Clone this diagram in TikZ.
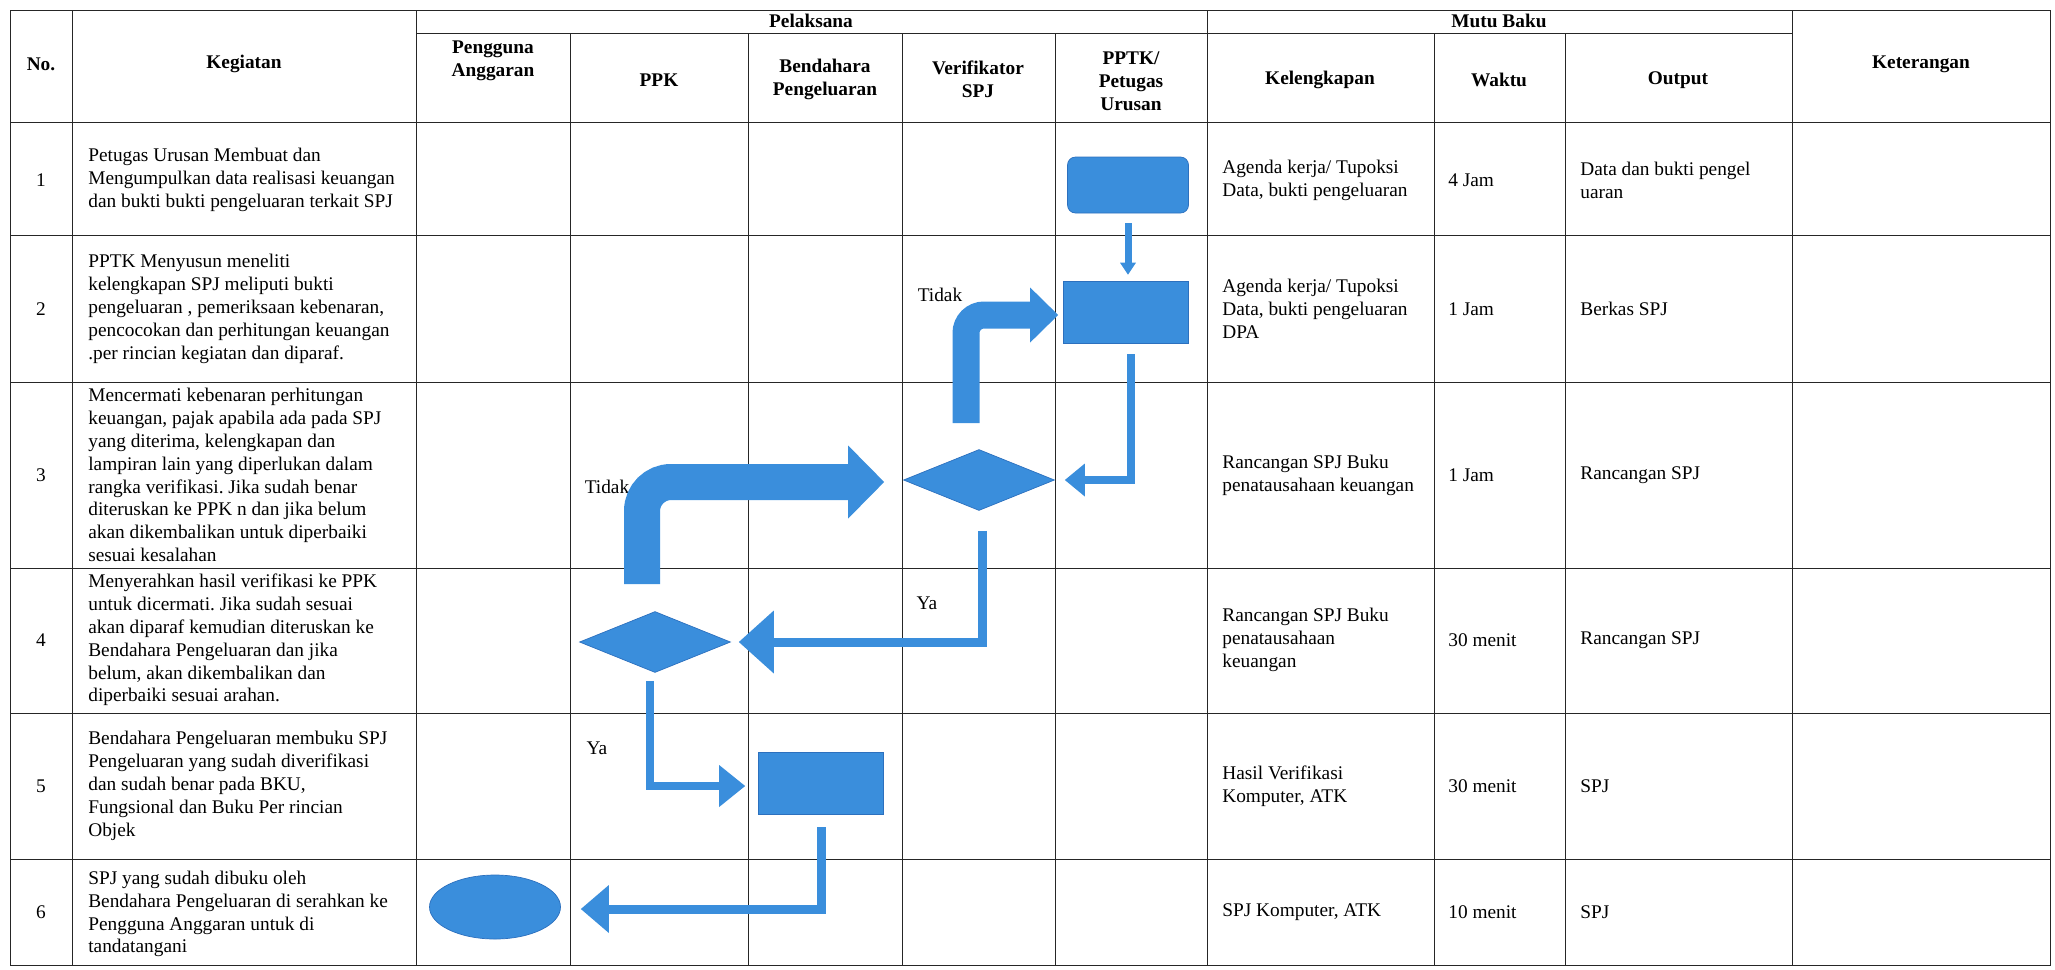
\documentclass[tikz,border=0pt]{standalone}
\usepackage{fontspec}
\setmainfont{Liberation Serif}
\usepackage{tikz}
\usetikzlibrary{arrows.meta,shapes.geometric}
\frenchspacing
\definecolor{flowblue}{RGB}{58,142,220}
\definecolor{flowedge}{RGB}{44,112,190}
\tikzstyle{grid line}=[draw=black!85,line width=0.5pt]
\tikzstyle{head}=[font=\fontsize{11}{13}\selectfont\bfseries,align=center,inner sep=0pt]
\tikzstyle{body}=[font=\fontsize{11}{13}\selectfont,inner sep=0pt]
\tikzstyle{desc}=[body,anchor=west,align=left]
\tikzstyle{blue box}=[rectangle,fill=flowblue,draw=flowedge,line width=0.4pt,minimum width=25mm,minimum height=12.4mm,inner sep=0pt]
\tikzstyle{blue round}=[blue box,rounded corners=1.6mm,minimum width=24.2mm,minimum height=11.2mm]
\tikzstyle{blue diamond}=[diamond,fill=flowblue,draw=flowedge,line width=0.4pt,minimum width=30.2mm,minimum height=12.2mm,inner sep=0pt]
\tikzstyle{blue oval}=[ellipse,fill=flowblue,draw=flowedge,line width=0.4pt,minimum width=26.2mm,minimum height=12.8mm,inner sep=0pt]
\tikzstyle{flow}=[draw=flowblue,line join=miter]

\begin{document}
\begin{tikzpicture}[x=0.2mm,y=-0.2mm]
          \useasboundingbox (0,0) rectangle (2055,969);
          % table
          \draw[grid line] (10,10) rectangle (2050,965);
          \foreach \y in {122,235,382,568,713,859} \draw[grid line] (10,\y) -- (2050,\y);
          \draw[grid line] (416,33) -- (1792,33);
          \foreach \x in {72,416,1207,1792} \draw[grid line] (\x,10) -- (\x,965);
          \foreach \x in {570,748,902,1055,1434,1565} \draw[grid line] (\x,33) -- (\x,965);

          \node[head] (hno) at (41,64) {No.};
          \node[head] (hkeg) at (244,64) {Kegiatan};
          \node[head] (hpel) at (811,21) {Pelaksana};
          \node[head] (hmutu) at (1499,21) {Mutu Baku};
          \node[head] (hket) at (1921,64) {Keterangan};
          \node[head] (hpa) at (493,61) {Pengguna\\Anggaran};
          \node[head] (hppk) at (659,80) {PPK};
          \node[head] (hbp) at (825,79) {Bendahara\\Pengeluaran};
          \node[head] (hver) at (978,79) {Verifikator\\SPJ};
          \node[head] (hpptk) at (1131,81) {PPTK/\\Petugas\\Urusan};
          \node[head] (hkel) at (1320,80) {Kelengkapan};
          \node[head] (hwak) at (1499,80) {Waktu};
          \node[head] (hout) at (1678,80) {Output};

          \node[body] (no1) at (41,180) {1};
          \node[body] (no2) at (41,309) {2};
          \node[body] (no3) at (41,475) {3};
          \node[body] (no4) at (41,640) {4};
          \node[body] (no5) at (41,786) {5};
          \node[body] (no6) at (41,912) {6};

          \node[desc] (keg1) at (88,180) {Petugas Urusan Membuat dan\\Mengumpulkan data realisasi keuangan\\dan bukti bukti pengeluaran terkait SPJ};
          \node[desc] (keg2) at (88,309) {PPTK Menyusun meneliti\\kelengkapan SPJ meliputi bukti\\pengeluaran , pemeriksaan kebenaran,\\pencocokan dan perhitungan keuangan\\.per rincian kegiatan dan diparaf.};
          \node[desc] (keg3) at (88,475) {Mencermati kebenaran perhitungan\\keuangan, pajak apabila ada pada SPJ\\yang diterima, kelengkapan dan\\lampiran lain yang diperlukan dalam\\rangka verifikasi. Jika sudah benar\\diteruskan ke PPK n dan jika belum\\akan dikembalikan untuk diperbaiki\\sesuai kesalahan};
          \node[desc] (keg4) at (88,640) {Menyerahkan hasil verifikasi ke PPK\\untuk dicermati. Jika sudah sesuai\\akan diparaf kemudian diteruskan ke\\Bendahara Pengeluaran dan jika\\belum, akan dikembalikan dan\\diperbaiki sesuai arahan.};
          \node[desc] (keg5) at (88,786) {Bendahara Pengeluaran membuku SPJ\\Pengeluaran yang sudah diverifikasi\\dan sudah benar pada BKU,\\Fungsional dan Buku Per rincian\\Objek};
          \node[desc] (keg6) at (88,914) {SPJ yang sudah dibuku oleh\\Bendahara Pengeluaran di serahkan ke\\Pengguna Anggaran untuk di\\tandatangani};

          \node[desc] (kel1) at (1222,180) {Agenda kerja/ Tupoksi\\Data, bukti pengeluaran};
          \node[desc] (kel2) at (1222,309) {Agenda kerja/ Tupoksi\\Data, bukti pengeluaran\\DPA};
          \node[desc] (kel3) at (1222,475) {Rancangan SPJ Buku\\penatausahaan keuangan};
          \node[desc] (kel4) at (1222,640) {Rancangan SPJ Buku\\penatausahaan\\keuangan};
          \node[desc] (kel5) at (1222,786) {Hasil Verifikasi\\Komputer, ATK};
          \node[desc] (kel6) at (1222,912) {SPJ Komputer, ATK};

          \node[desc] (wak1) at (1448,180) {4 Jam};
          \node[desc] (wak2) at (1448,309) {1 Jam};
          \node[desc] (wak3) at (1448,475) {1 Jam};
          \node[desc] (wak4) at (1448,640) {30 menit};
          \node[desc] (wak5) at (1448,786) {30 menit};
          \node[desc] (wak6) at (1448,912) {10 menit};

          \node[desc] (out1) at (1580,180) {Data dan bukti pengel\\uaran};
          \node[desc] (out2) at (1580,309) {Berkas SPJ};
          \node[desc] (out3) at (1580,475) {Rancangan SPJ};
          \node[desc] (out4) at (1580,640) {Rancangan SPJ};
          \node[desc] (out5) at (1580,786) {SPJ};
          \node[desc] (out6) at (1580,912) {SPJ};

          % flow
          \node[blue round] (s1) at (1128,185) {};
          \node[blue box] (s2) at (1126,312) {};
          \node[blue diamond] (s3) at (979,480) {};
          \node[blue diamond] (s4) at (655,642) {};
          \node[blue box] (s5) at (821,783) {};
          \node[blue oval] (s6) at (495,907) {};
          \coordinate (t2) at (966,423);
          \coordinate (t3) at (642,584);

          \node[body] (tidak2) at (940,295) {Tidak};
          \node[body] (tidak3) at (607,487) {Tidak};
          \node[body] (ya4) at (927,603) {Ya};
          \node[body] (ya5) at (597,748) {Ya};

          \draw[flow,line width=1.4mm,shorten <=2mm,shorten >=1.2mm,-{Triangle[width=3.2mm,length=2.4mm,line width=0pt]}] (s1.south) -- (s1.south |- s2.north);
          \draw[flow,line width=5.4mm,rounded corners=3.6mm,shorten >=1mm,-{Triangle[width=11mm,length=5.6mm,line width=0pt]}] (t2) |- ([yshift=-0.6mm]s2.west);
          \draw[flow,line width=1.5mm,shorten <=2.2mm,shorten >=2mm,-{Triangle[width=6.6mm,length=4mm,line width=0pt]}] ([xshift=1mm]s2.south) |- (s3.east);
          \draw[flow,line width=7.2mm,rounded corners=5.8mm,shorten >=3.8mm,-{Triangle[width=14.6mm,length=7.2mm,line width=0pt]}] (t3) |- ([yshift=-0.4mm]s3.west);
          \draw[flow,line width=1.8mm,shorten <=4mm,shorten >=1.6mm,-{Triangle[width=12.6mm,length=7mm,line width=0pt]}] ([xshift=0.6mm]s3.south) |- (s4.east);
          \draw[flow,line width=1.6mm,shorten <=1.6mm,shorten >=2.6mm,-{Triangle[width=8.4mm,length=5.2mm,line width=0pt]}] ([xshift=-1mm]s4.south) |- ([yshift=-0.6mm]s5.west);
          \draw[flow,line width=1.8mm,shorten <=2.6mm,shorten >=4mm,-{Triangle[width=9.6mm,length=5.6mm,line width=0pt]}] (s5.south) |- ([yshift=-0.4mm]s6.east);
\end{tikzpicture}
\end{document}
